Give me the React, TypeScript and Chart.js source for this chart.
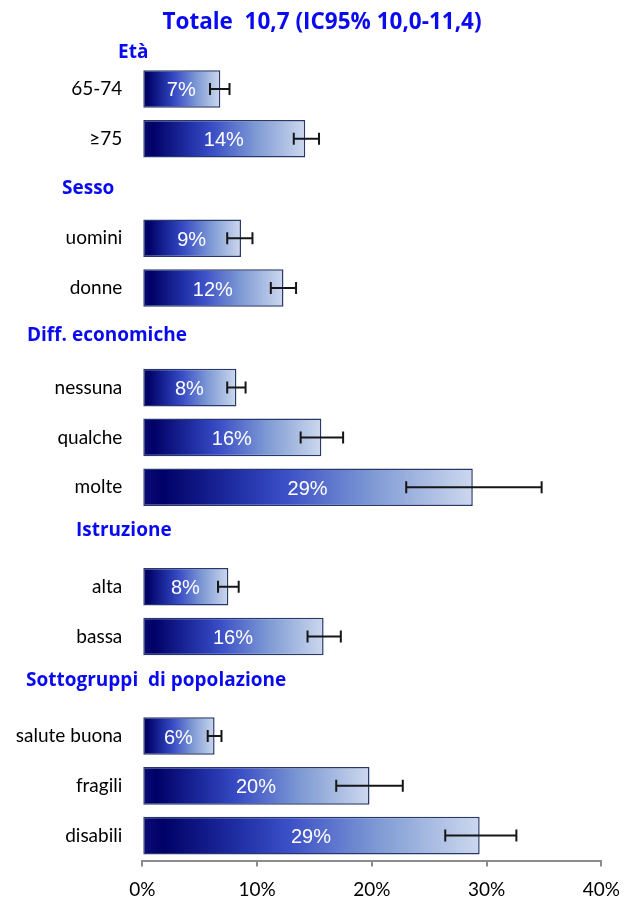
import React, { useEffect, useRef } from 'react';
import { Chart, registerables } from 'chart.js';

Chart.register(...registerables);

// ---- data ----
const categories = [
  'Età', '65-74', '≥75',
  'Sesso', 'uomini', 'donne',
  'Diff. economiche', 'nessuna', 'qualche', 'molte',
  'Istruzione', 'alta', 'bassa',
  'Sottogruppi  di popolazione', 'salute buona', 'fragili', 'disabili',
];
const isHeader = [
  true, false, false,
  true, false, false,
  true, false, false, false,
  true, false, false,
  true, false, false, false,
];
const values = [
  null, 6.8, 14.2,
  null, 8.6, 12.3,
  null, 8.2, 15.6, 28.8,
  null, 7.5, 15.8,
  null, 6.3, 19.8, 29.4,
];
const ciLow = [
  null, 5.9, 13.2,
  null, 7.4, 11.2,
  null, 7.4, 13.8, 23.0,
  null, 6.6, 14.4,
  null, 5.7, 16.9, 26.4,
];
const ciHigh = [
  null, 7.6, 15.4,
  null, 9.6, 13.4,
  null, 9.0, 17.5, 34.8,
  null, 8.4, 17.3,
  null, 6.9, 22.7, 32.6,
];
const xTickValues = [0, 10, 20, 30, 40];
const titleText = 'Totale  10,7 (IC95% 10,0-11,4)';

// ---- layout / style ----
const W = 627;
const H = 900;
const PLOT_LEFT = 142.3;
const PLOT_RIGHT = 601.3;
const PLOT_TOP = 14.3;
const PLOT_BOTTOM = 860.5;
const BLUE = '#0a0af0';
// header label placement: left x and vertical offset from the row centre
const headerPlacement: Record<number, { x: number; dy: number }> = {
  0: { x: 118, dy: 13 },
  3: { x: 62, dy: 0 },
  6: { x: 27, dy: -2 },
  10: { x: 76, dy: -6 },
  13: { x: 26, dy: -6 },
};

const overlayPlugin = {
  id: 'overlay',
  afterDatasetsDraw(chart: any) {
    const ctx = chart.ctx;
    const xs = chart.scales.x;
    const meta = chart.getDatasetMeta(0);
    ctx.save();
    // value labels
    ctx.fillStyle = '#ffffff';
    ctx.font = '20px "Liberation Sans", Arial, sans-serif';
    ctx.textAlign = 'center';
    ctx.textBaseline = 'middle';
    values.forEach((v, i) => {
      if (v == null) return;
      const el = meta.data[i];
      const x0 = xs.getPixelForValue(0);
      const x1 = xs.getPixelForValue(v);
      ctx.fillText(Math.round(v) + '%', (x0 + x1) / 2, el.y + 2);
    });
    // error bars
    ctx.strokeStyle = '#161616';
    ctx.lineWidth = 2;
    values.forEach((v, i) => {
      const lo = ciLow[i];
      const hi = ciHigh[i];
      if (lo == null || hi == null) return;
      const el = meta.data[i];
      const y = el.y;
      const a = xs.getPixelForValue(lo);
      const b = xs.getPixelForValue(hi);
      ctx.beginPath();
      ctx.moveTo(a, y);
      ctx.lineTo(b, y);
      ctx.moveTo(a, y - 6);
      ctx.lineTo(a, y + 6);
      ctx.moveTo(b, y - 6);
      ctx.lineTo(b, y + 6);
      ctx.stroke();
    });
    ctx.restore();
  },
  afterDraw(chart: any) {
    const ctx = chart.ctx;
    const ys = chart.scales.y;
    ctx.save();
    ctx.fillStyle = BLUE;
    ctx.textBaseline = 'middle';
    // title
    ctx.font = 'bold 22.5px "Open Sans", sans-serif';
    ctx.textAlign = 'center';
    ctx.fillText(titleText, 322, 23);
    // group headers
    ctx.font = 'bold 19px "Open Sans", sans-serif';
    ctx.textAlign = 'left';
    categories.forEach((c, i) => {
      if (!isHeader[i]) return;
      const p = headerPlacement[i];
      const y = ys.getPixelForValue(i);
      ctx.fillText(c, p.x, y + p.dy);
    });
    ctx.restore();
  },
};

export default function App() {
  const ref = useRef<HTMLCanvasElement>(null);
  useEffect(() => {
    const canvas = ref.current!;
    const chart = new Chart(canvas, {
      type: 'bar',
      data: {
        labels: categories,
        datasets: [
          {
            data: values as any,
            backgroundColor: (c: any) => {
              const chart = c.chart;
              const xs = chart.scales.x;
              if (!xs || c.raw == null) return '#3a4ec6';
              const x0 = xs.getPixelForValue(0);
              const x1 = xs.getPixelForValue(c.raw);
              const g = chart.ctx.createLinearGradient(x0, 0, x1, 0);
              g.addColorStop(0, '#0c0c78');
              g.addColorStop(0.06, '#000066');
              g.addColorStop(0.3, '#2232a8');
              g.addColorStop(0.43, '#3a4ec6');
              g.addColorStop(0.7, '#7f9bd4');
              g.addColorStop(1, '#cdd8ee');
              return g;
            },
            borderColor: '#28386a',
            borderWidth: 1.5,
            borderSkipped: false,
            barPercentage: 0.755,
            categoryPercentage: 1,
          },
        ],
      },
      options: {
        indexAxis: 'y',
        responsive: false,
        animation: false,
        maintainAspectRatio: false,
        layout: {
          padding: { left: 0, right: W - PLOT_RIGHT, top: PLOT_TOP, bottom: 0 },
        },
        plugins: {
          legend: { display: false },
          title: { display: false },
          tooltip: { enabled: false },
        },
        scales: {
          x: {
            type: 'linear',
            min: 0,
            max: 40,
            afterBuildTicks: (s: any) => {
              s.ticks = xTickValues.map((v) => ({ value: v }));
            },
            afterFit: (s: any) => {
              s.height = H - PLOT_BOTTOM;
              s.paddingLeft = 0;
              s.paddingRight = 0;
            },
            border: { display: true, color: '#8c8c8c', width: 2 },
            grid: {
              display: true,
              drawOnChartArea: false,
              drawTicks: true,
              tickLength: 6,
              color: '#8c8c8c',
              lineWidth: 2,
            },
            ticks: {
              padding: 12,
              color: '#000000',
              font: { family: 'Lato', size: 19 },
              callback: (v: any) => v + '%',
              maxRotation: 0,
            },
          },
          y: {
            type: 'category',
            afterFit: (s: any) => {
              s.width = PLOT_LEFT;
              s.paddingTop = 0;
              s.paddingBottom = 0;
            },
            border: { display: false },
            grid: { display: false, drawTicks: false },
            ticks: {
              padding: 20,
              color: '#000000',
              font: { family: 'Lato', size: 19 },
              callback: (_v: any, i: number) => (isHeader[i] ? '' : categories[i]),
              autoSkip: false,
            },
          },
        },
      },
      plugins: [overlayPlugin],
    } as any);
    return () => chart.destroy();
  }, []);
  return (
    <div style={{ position: 'absolute', left: 0, top: 0, width: W, height: H, background: '#ffffff' }}>
      <canvas ref={ref} width={W} height={H} style={{ display: 'block' }} />
    </div>
  );
}
